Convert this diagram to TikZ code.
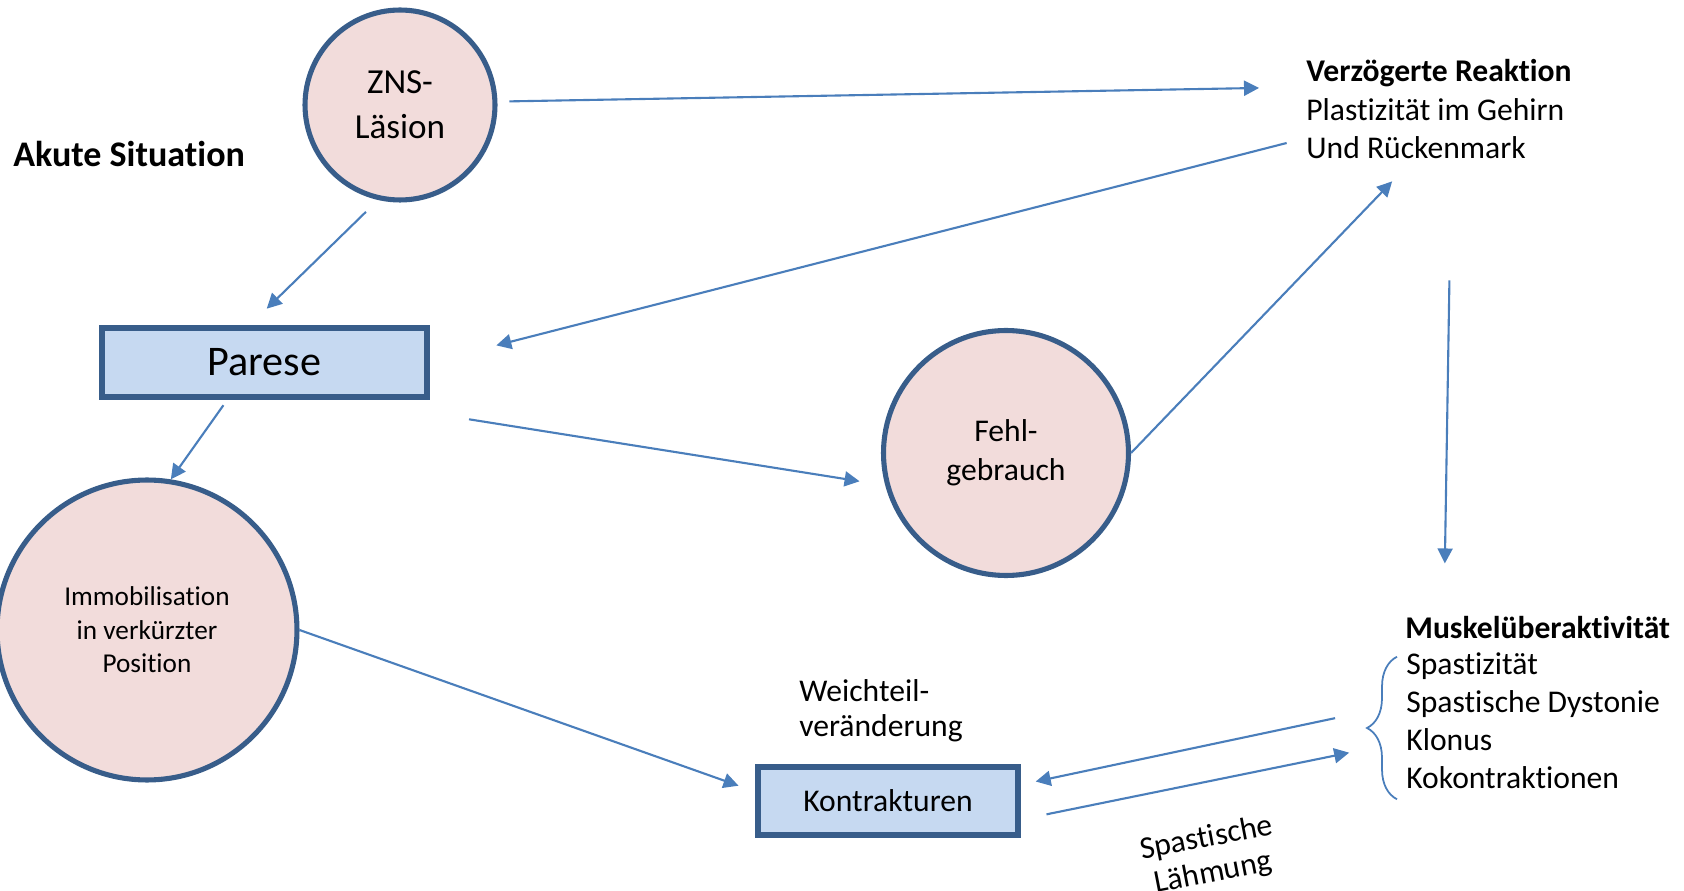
\documentclass[tikz,border=0pt]{standalone}
\usepackage{fontspec}
\setmainfont{Carlito}[Ligatures=NoCommon]
\usepackage{tikz}
\usetikzlibrary{arrows.meta,decorations.pathreplacing}

\definecolor{rimblue}{HTML}{385D8A}
\definecolor{arrowblue}{HTML}{4A7EBB}
\definecolor{rosefill}{HTML}{F2DCDB}
\definecolor{boxfill}{HTML}{C6D9F1}

\begin{document}
\begin{tikzpicture}[y=-0.02cm,x=0.02cm,
	circ/.style={circle, draw=rimblue, fill=rosefill, line width=2.9pt, align=center, font=\fontsize{18}{22}\selectfont},
	box/.style={rectangle, draw=rimblue, fill=boxfill, line width=2.9pt, align=center, font=\fontsize{18}{22}\selectfont},
	txtnode/.style={inner sep=0pt, align=left, font=\fontsize{18}{21.6}\selectfont},
	arr/.style={arrowblue, line width=1.2pt, -{Triangle[length=0.3cm,width=0.3cm]}}]

	\useasboundingbox (0,0) rectangle (1684,891);

	\node[circ, minimum size=3.8cm, font=\fontsize{20}{25.6}\selectfont] (zns) at (400,105) {ZNS-\\Läsion};
	\node[box, minimum width=6.5cm, minimum height=1.38cm, font=\fontsize{24}{29}\selectfont] (parese) at (264.5,362.5) {Parese};
	\node[circ, minimum size=6cm, font=\fontsize{15.5}{19}\selectfont] (immo) at (147,630) {Immobilisation\\in verkürzter\\Position};
	\node[circ, minimum size=4.9cm, font=\fontsize{18}{22.2}\selectfont] (fehl) at (1006,453) {Fehl-\\gebrauch};
	\node[box, minimum width=5.2cm, minimum height=1.36cm] (kontr) at (888,801) {Kontrakturen};

	\node[txtnode, anchor=west, font=\fontsize{20.5}{24}\selectfont\bfseries] (akut) at (13,154) {Akute Situation};
	\node[txtnode, anchor=west, font=\fontsize{18}{21.6}\selectfont\bfseries] (verzT) at (1306,73) {Verzögerte Reaktion};
	\node[txtnode, anchor=west] (verzB) at (1306,129) {Plastizität im Gehirn\\Und Rückenmark};
	\node[txtnode, anchor=west, font=\fontsize{18}{21.6}\selectfont\bfseries] (muskT) at (1405,628) {Muskelüberaktivität};
	\node[txtnode, anchor=west] (muskL) at (1406,721) {Spastizität\\Spastische Dystonie\\Klonus\\Kokontraktionen};
	\node[txtnode, anchor=west, font=\fontsize{18}{20}\selectfont] (weich) at (799,711) {Weichteil-\\veränderung};
	\node[txtnode, align=center, rotate=11, font=\fontsize{18}{20}\selectfont] (spast) at (1210,856) {Spastische\\Lähmung};

	\draw[arr, shorten <=0.24cm, shorten >=0.94cm] (zns.2) -- (verzT.south west);
	\draw[arr, shorten <=0.4cm, shorten >=1.38cm] (verzB.184) -- (parese.east);
	\draw[arr, shorten <=0.34cm, shorten >=0.48cm] (zns.257) -- (parese.112);
	\draw[arr, shorten <=0.14cm] (parese.225) -- (immo.81);
	\draw[arr, shorten <=0.8cm, shorten >=0.52cm] ([yshift=-0.27cm]parese.south east) -- (fehl.195);
	\draw[arr, shorten >=0.61cm] (fehl.east) -- (verzB.234);
	\draw[arr, shorten <=2.42cm, shorten >=1.06cm] ([xshift=0.32cm]verzB.south) -- ([xshift=0.78cm]muskT.north west);
	\draw[arr, shorten >=0.36cm] (immo.east) -- (kontr.176);
	\draw[arr, shorten <=1.45cm, shorten >=0.31cm] (muskL.172) -- (kontr.7);
	\draw[arr, shorten <=0.53cm, shorten >=1.16cm] (kontr.-8) -- (muskL.189);

	\draw[arrowblue, line width=1pt, decorate, decoration={brace,amplitude=0.6cm}]
		([xshift=-0.18cm,yshift=-0.2cm]muskL.south west) -- ([xshift=-0.18cm,yshift=-0.08cm]muskL.north west);

\end{tikzpicture}
\end{document}
